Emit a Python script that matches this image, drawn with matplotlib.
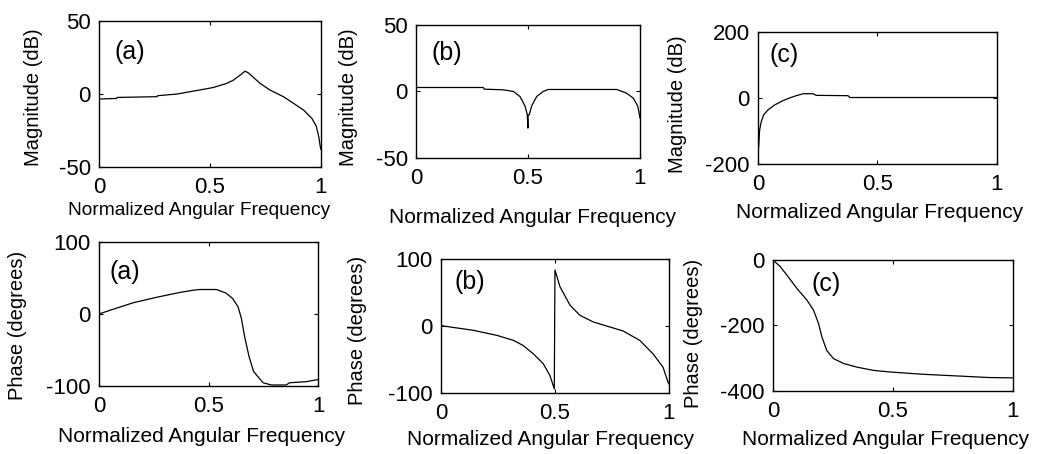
import numpy as np
import matplotlib
matplotlib.use("Agg")
import matplotlib.pyplot as plt

plt.rcParams['font.family'] = ['Liberation Sans', 'DejaVu Sans']
plt.rcParams['axes.unicode_minus'] = False

# (a) magnitude
mag_a_x = [0, 0.08, 0.082, 0.26, 0.265, 0.35, 0.45, 0.515, 0.575, 0.605, 0.636, 0.658,
           0.673, 0.726, 0.771, 0.831, 0.877, 0.922, 0.959, 0.979, 0.99, 0.997, 1.0]
mag_a_y = [-3.4, -3, -2.3, -1.8, -1.1, 0, 2.7, 4.5, 7.3, 9.5, 13, 15.7,
           14.5, 7.3, 2.7, -1.8, -6.4, -11, -16.6, -22, -29, -36, -38]
# (b) magnitude
mag_b_x = [0, 0.30, 0.305, 0.39, 0.435, 0.464, 0.487, 0.497, 0.4995, 0.5, 0.5005, 0.506,
           0.516, 0.539, 0.568, 0.59, 0.896, 0.94, 0.97, 0.99, 1.0]
mag_b_y = [3, 3, 1.75, 1.25, 0, -3.75, -11, -17.5, -27.5, -27.5, -17.5, -17.5,
           -11, -3.75, 0, 1.5, 1.5, -1.25, -5, -11, -20]
# (c) magnitude
mag_c_x = [0, 0.003, 0.007, 0.014, 0.024, 0.042, 0.07, 0.105, 0.13, 0.16, 0.19, 0.23,
           0.244, 0.377, 0.384, 1.0]
mag_c_y = [-165, -147, -97, -71, -51, -36, -21, -8, -0.5, 7, 13, 13,
           8, 7, 1.5, 1.5]
# (a) phase
ph_a_x = [0, 0.049, 0.155, 0.26, 0.37, 0.43, 0.46, 0.536, 0.58, 0.61, 0.635, 0.65, 0.665,
          0.685, 0.706, 0.749, 0.787, 0.855, 0.87, 0.947, 1.0]
ph_a_y = [0, 5, 15.5, 23, 30, 33, 34, 34, 29, 21.5, 10, -6, -31.6,
          -59, -80, -95.5, -98.6, -98.6, -95.5, -94, -91]
# (b) phase
ph_b_x = [0, 0.04, 0.143, 0.245, 0.318, 0.36, 0.405, 0.449, 0.478, 0.497, 0.5, 0.522,
          0.566, 0.609, 0.668, 0.726, 0.799, 0.872, 0.93, 0.974, 0.996, 1.0]
ph_b_y = [0.5, -1.5, -6.5, -14, -21.5, -29, -41.5, -56.5, -74, -94, 83.5, 58.5,
          31, 16, 6, 0, -7.5, -21.5, -41.5, -61.5, -84, -86.5]
# (c) phase
ph_c_x = [0, 0.03, 0.058, 0.1, 0.141, 0.169, 0.19, 0.204, 0.224, 0.252, 0.294, 0.349,
          0.418, 0.488, 0.626, 0.765, 0.903, 1.0]
ph_c_y = [0, -20, -46, -87, -122, -153, -194, -235, -276, -301, -316, -327,
          -337, -342, -349, -354, -359, -360]

panels = [
    # rect, x, y, ylim, yticks, ylabel, tag, tagpos, xlabel pos, ylabel pos, xlabel size
    ([0.095, 0.632, 0.213, 0.3216], mag_a_x, mag_a_y, (-50, 50), [-50, 0, 50],
     'Magnitude (dB)', '(a)', (0.07, 29), (0.45, -0.30), (-0.297, 0.48), 13.8),
    ([0.3992, 0.652, 0.215, 0.293], mag_b_x, mag_b_y, (-50, 50), [-50, 0, 50],
     'Magnitude (dB)', '(b)', (0.07, 29), (0.52, -0.45), (-0.30, 0.46), 15),
    ([0.7274, 0.6388, 0.2294, 0.2907], mag_c_x, mag_c_y, (-200, 200), [-200, 0, 200],
     'Magnitude (dB)', '(c)', (0.05, 130), (0.51, -0.37), (-0.335, 0.45), 15),
    ([0.095, 0.1498, 0.2102, 0.3172], ph_a_x, ph_a_y, (-100, 100), [-100, 0, 100],
     'Phase (degrees)', '(a)', (0.05, 58), (0.47, -0.354), (-0.37, 0.42), 15),
    ([0.4232, 0.1344, 0.2188, 0.2952], ph_b_x, ph_b_y, (-100, 100), [-100, 0, 100],
     'Phase (degrees)', '(b)', (0.06, 66), (0.48, -0.35), (-0.364, 0.47), 15),
    ([0.7418, 0.1388, 0.2303, 0.2885], ph_c_x, ph_c_y, (-400, 0), [-400, -200, 0],
     'Phase (degrees)', '(c)', (0.16, -73), (0.47, -0.374), (-0.333, 0.44), 15),
]

fig = plt.figure(figsize=(10.42, 4.54), dpi=100)

for rect, xs, ys, ylim, yt, ylab, tag, tpos, xlpos, ylpos, xls in panels:
    ax = fig.add_axes(rect)
    ax.plot(xs, ys, color='black', lw=0.9)
    ax.set_xlim(0, 1)
    ax.set_ylim(*ylim)
    ax.set_xticks([0, 0.5, 1])
    ax.set_xticklabels(['0', '0.5', '1'])
    ax.set_yticks(yt)
    ax.tick_params(direction='in', length=3, width=0.8, labelsize=16,
                   top=True, right=True)
    ax.tick_params(axis='x', pad=7)
    ax.tick_params(axis='y', pad=6)
    for s in ax.spines.values():
        s.set_linewidth(1.0)
    ax.text(tpos[0], tpos[1], tag, fontsize=18, va='center', ha='left')
    ax.set_xlabel('Normalized Angular Frequency', fontsize=xls)
    ax.xaxis.label.set_va('center')
    ax.xaxis.set_label_coords(*xlpos)
    ax.set_ylabel(ylab, fontsize=14.5)
    ax.yaxis.label.set_va('center')
    ax.yaxis.set_label_coords(*ylpos)

fig.savefig('out.png', dpi=100)
